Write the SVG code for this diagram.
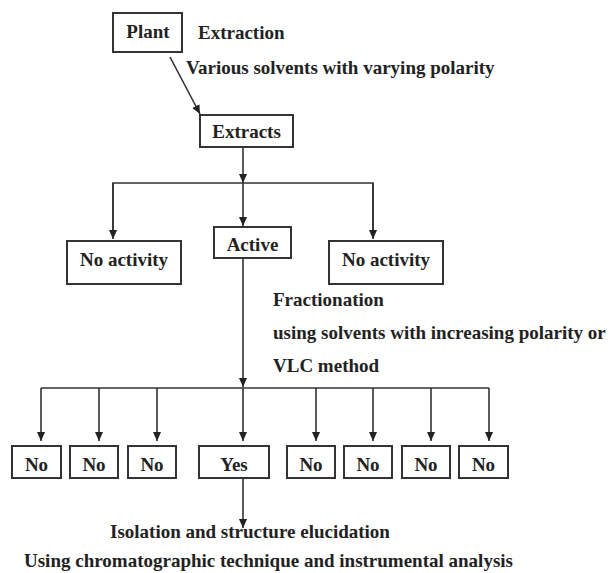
<svg xmlns="http://www.w3.org/2000/svg" width="610" height="573" viewBox="0 0 610 573">
<defs>
<marker id="ah" viewBox="0 0 10 10" refX="10" refY="5" markerWidth="9" markerHeight="9" markerUnits="userSpaceOnUse" orient="auto">
<path d="M0,0.5 L10,5 L0,9.5 z" fill="#222"/>
</marker>
<style>
text{font-family:"Liberation Serif","Times New Roman",serif;font-weight:bold;font-size:19px;fill:#222}
.c{text-anchor:middle}
rect{fill:#fff;stroke:#333;stroke-width:2}
.ln{fill:none;stroke:#333;stroke-width:1.6}
.ar{fill:none;stroke:#333;stroke-width:1.6;marker-end:url(#ah)}
</style>
</defs>
<rect x="0" y="0" width="610" height="573" style="fill:#fff;stroke:none"/>
<g id="connectors">
<line class="ar" x1="170" y1="57" x2="200" y2="114"/>
<line class="ar" x1="243" y1="147" x2="243" y2="183"/>
<polyline class="ln" points="113,230 113,183 373,183 373,230"/>
<line class="ar" x1="113" y1="183" x2="113" y2="239"/>
<line class="ar" x1="373" y1="183" x2="373" y2="239"/>
<line class="ar" x1="243" y1="183" x2="243" y2="226"/>
<line class="ar" x1="243" y1="258" x2="243" y2="387"/>
<line class="ln" x1="41" y1="388" x2="489" y2="388"/>
<line class="ar" x1="41" y1="388" x2="41" y2="441"/>
<line class="ar" x1="99" y1="388" x2="99" y2="441"/>
<line class="ar" x1="157" y1="388" x2="157" y2="441"/>
<line class="ar" x1="243" y1="388" x2="243" y2="441"/>
<line class="ar" x1="316" y1="388" x2="316" y2="441"/>
<line class="ar" x1="373" y1="388" x2="373" y2="441"/>
<line class="ar" x1="431" y1="388" x2="431" y2="441"/>
<line class="ar" x1="489" y1="388" x2="489" y2="441"/>
<line class="ar" x1="243" y1="478" x2="243" y2="528"/>
</g>
<g id="plant"><rect x="113" y="13" width="69" height="39"/><text class="c" x="148" y="38">Plant</text></g>
<g id="extraction-label"><text x="198" y="39">Extraction</text><text x="186" y="74">Various solvents with varying polarity</text></g>
<g id="extracts"><rect x="200" y="115" width="93" height="32"/><text class="c" x="246.5" y="138">Extracts</text></g>
<g id="no-activity-left"><rect x="67" y="241" width="114" height="43"/><text class="c" x="124" y="266">No activity</text></g>
<g id="active"><rect x="214" y="227" width="77" height="31"/><text class="c" x="252.5" y="251">Active</text></g>
<g id="no-activity-right"><rect x="329" y="241" width="114" height="43"/><text class="c" x="386" y="266">No activity</text></g>
<g id="fractionation-label"><text x="273" y="306">Fractionation</text><text x="273" y="339">using solvents with increasing polarity or</text><text x="273" y="372">VLC method</text></g>
<g id="no1"><rect x="12" y="446" width="49" height="32"/><text class="c" x="36.5" y="471">No</text></g>
<g id="no2"><rect x="70" y="446" width="48" height="32"/><text class="c" x="94" y="471">No</text></g>
<g id="no3"><rect x="128" y="446" width="48" height="32"/><text class="c" x="152" y="471">No</text></g>
<g id="yes"><rect x="199" y="446" width="70" height="32"/><text class="c" x="234" y="471">Yes</text></g>
<g id="no5"><rect x="287" y="446" width="48" height="32"/><text class="c" x="311" y="471">No</text></g>
<g id="no6"><rect x="344" y="446" width="48" height="32"/><text class="c" x="368" y="471">No</text></g>
<g id="no7"><rect x="402" y="446" width="48" height="32"/><text class="c" x="426" y="471">No</text></g>
<g id="no8"><rect x="459" y="446" width="49" height="32"/><text class="c" x="483.5" y="471">No</text></g>
<g id="isolation-label"><text x="110" y="538">Isolation and structure elucidation</text><text x="24" y="567">Using chromatographic technique and instrumental analysis</text></g>
</svg>
